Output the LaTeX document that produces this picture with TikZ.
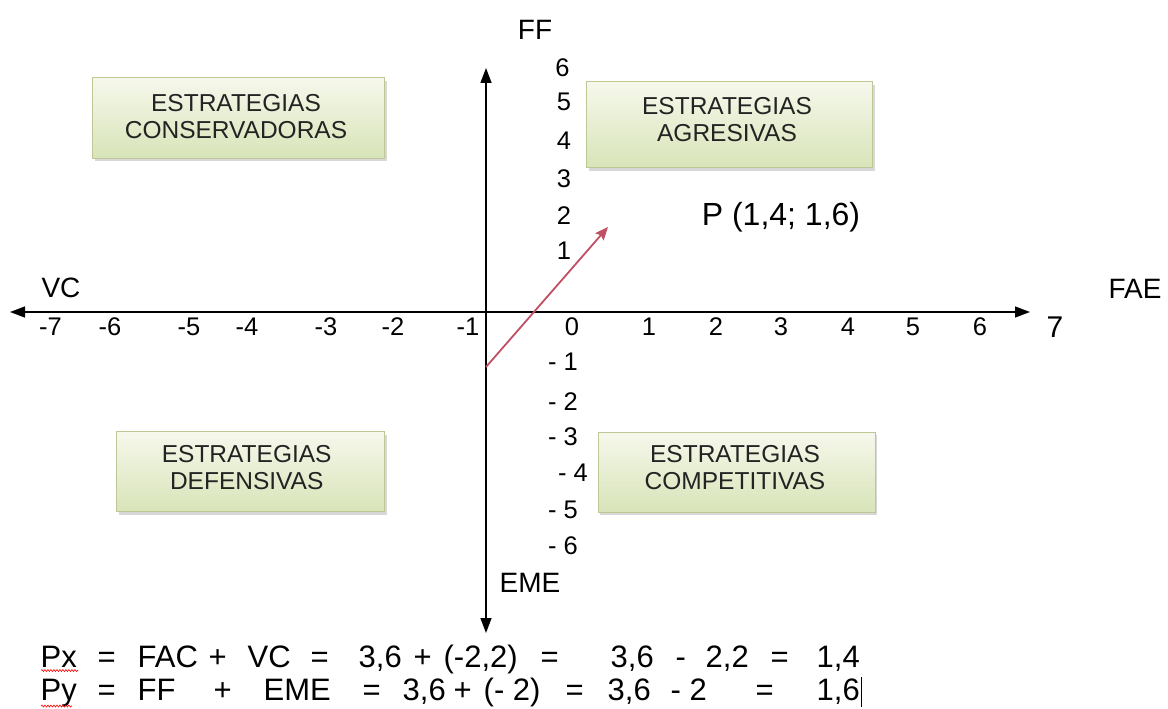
\documentclass[tikz,border=0pt]{standalone}
\usepackage{fontspec}
\setmainfont{Liberation Sans}
\usetikzlibrary{arrows.meta,shadows,decorations.pathmorphing}
\definecolor{boxtop}{RGB}{246,248,236}
\definecolor{boxbot}{RGB}{216,228,184}
\definecolor{boxline}{RGB}{190,200,150}
\definecolor{vecred}{RGB}{192,80,100}
\definecolor{txt}{RGB}{35,35,35}
\newcommand\eqpart[2]{\makebox[0pt][l]{\hspace*{#1pt}#2}}
\begin{document}
\begin{tikzpicture}[x=1pt,y=-1pt,
  stratbox/.style={draw=boxline, line width=1pt, top color=boxtop, bottom color=boxbot,
    drop shadow={opacity=0.3, shadow xshift=2pt, shadow yshift=-3pt}, inner sep=0pt},
  strattext/.style={align=center, font=\fontsize{24.5}{27}\selectfont, text=txt, inner sep=0pt},
  tick/.style={font=\fontsize{25.5}{30}\selectfont, inner sep=0pt},
  axlabel/.style={font=\fontsize{28}{33}\selectfont, inner sep=0pt},
  eqrow/.style={font=\fontsize{31}{36}\selectfont, inner sep=0pt, anchor=base west},
  axis/.style={line width=1.4pt, {Triangle[length=15pt,width=11pt]}-{Triangle[length=15pt,width=11pt]}},
  vector/.style={draw=vecred, line width=1.8pt, -{Stealth[length=13pt,width=11pt,inset=2pt]}},
  spell/.style={draw=red, line width=0.6pt, decorate, decoration={snake, amplitude=1pt, segment length=3pt}}
]
\useasboundingbox[fill=white] (0,0) rectangle (1168,709);

% strategy boxes
\node[stratbox, minimum width=292pt, minimum height=80pt] (bcons) at (238.8,118) {};
\node[stratbox, minimum width=286pt, minimum height=86pt] (bagr) at (729.8,124.8) {};
\node[stratbox, minimum width=268pt, minimum height=80pt] (bdef) at (250.8,471.7) {};
\node[stratbox, minimum width=277pt, minimum height=80pt] (bcomp) at (736.5,472) {};
\node[strattext] (tcons) at (236,116.7) {ESTRATEGIAS\\CONSERVADORAS};
\node[strattext] (tagr) at (727,119.3) {ESTRATEGIAS\\AGRESIVAS};
\node[strattext] (tdef) at (246.7,468) {ESTRATEGIAS\\DEFENSIVAS};
\node[strattext] (tcomp) at (735,468) {ESTRATEGIAS\\COMPETITIVAS};

% axes
\coordinate (xl) at (10,312);
\coordinate (xr) at (1030,312);
\coordinate (yt) at (486,68);
\coordinate (yb) at (486,633);
\draw[axis] (xl) -- (xr);
\draw[axis] (yb) -- (yt);

% axis titles
\node[axlabel] (ff) at (535,30) {FF};
\node[axlabel] (eme) at (530,583) {EME};
\node[axlabel] (vc) at (61,288) {VC};
\node[axlabel] (fae) at (1135,289) {FAE};

% x ticks
\foreach \v/\x [count=\i] in {-7/50.5,-6/110,-5/189,-4/247,-3/326,-2/393,-1/468,0/572,1/649,2/716,3/781,4/848,5/913,6/980}
  \node[tick] (tx\i) at (\x,327) {\v};
\node[font=\fontsize{30}{34}\selectfont, inner sep=0pt] (tx15) at (1055,327) {7};

% y ticks
\node[tick] (ty6) at (562.5,68) {6};
\foreach \v/\y in {5/102,4/141,3/179,2/216,1/251}
  \node[tick] (ty\v) at (564,\y) {\v};
\foreach \v/\y [count=\i] in {- 1/362,- 2/402,- 3/437,- 5/510,- 6/546}
  \node[tick] (tn\i) at (563,\y) {\v};
\node[tick] (tn6) at (573,473) {- 4};

% vector P
\coordinate (p0) at (486,367);
\coordinate (p1) at (608,227);
\draw[vector] (p0) -- (p1);
\node[font=\fontsize{32}{36}\selectfont, inner sep=0pt] (plabel) at (781,217) {P (1,4; 1,6)};

% equations
\node[eqrow] (eqx) at (40,667) {\eqpart{0}{Px}\eqpart{57}{=}\eqpart{97}{FAC}\eqpart{168}{+}\eqpart{207}{VC}\eqpart{270}{=}\eqpart{318}{3,6}\eqpart{373}{+}\eqpart{403}{(-2,2)}\eqpart{500}{=}\eqpart{570}{3,6}\eqpart{635}{-}\eqpart{665}{2,2}\eqpart{730}{=}\eqpart{776}{1,4}};
\node[eqrow] (eqy) at (40,700) {\eqpart{0}{Py}\eqpart{57}{=}\eqpart{97}{FF}\eqpart{173}{+}\eqpart{223}{EME}\eqpart{322}{=}\eqpart{362}{3,6}\eqpart{413}{+}\eqpart{443}{(- 2)}\eqpart{525}{=}\eqpart{567}{3,6}\eqpart{630}{- 2}\eqpart{715}{=}\eqpart{776}{1,6}};
\draw[spell] (41,670.5) -- (78,670.5);
\draw[spell] (41,706) -- (72,706);
\draw[line width=1.2pt] (861.5,677) -- (861.5,707);
\end{tikzpicture}
\end{document}
